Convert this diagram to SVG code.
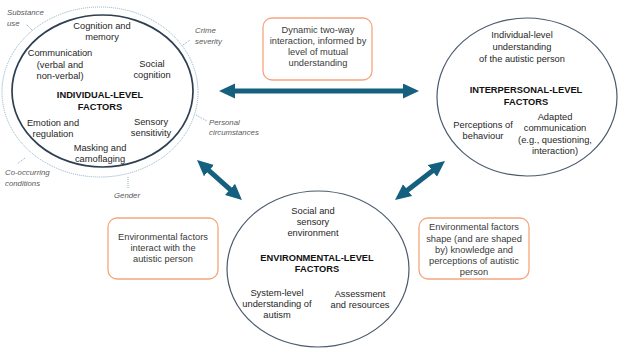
<svg xmlns="http://www.w3.org/2000/svg" width="626" height="353" viewBox="0 0 626 353">
<style>
text{font-family:"Liberation Sans",Arial,sans-serif;font-size:9.3px;fill:#262626;text-anchor:middle}
.b{font-weight:bold;fill:#111}
.i{font-style:italic;font-size:7.8px;fill:#5a5a5a;text-anchor:start}
.bx text{fill:#3a3a3a}
.box{fill:#fff;stroke:#F4A67E;stroke-width:1.3}
.ell{fill:#fff;stroke:#4A5A6E;stroke-width:1.2}
.ell2{fill:#fff;stroke:#2E3F52;stroke-width:1.7}
.dot{fill:none;stroke:#86B0C6;stroke-width:1;stroke-dasharray:1 1}
.arr{stroke:#15607F;stroke-width:5;fill:none}
</style>
<defs>
<marker id="ah" markerUnits="userSpaceOnUse" markerWidth="17" markerHeight="16" refX="6" refY="7.5" orient="auto-start-reverse" viewBox="0 0 17 16">
<path d="M0,0 L16,7.5 L0,15 Z" fill="#15607F"/>
</marker>
</defs>
<rect width="626" height="353" fill="#fff"/>

<g id="connectors">
<line class="arr" x1="229" y1="91" x2="409" y2="91" marker-start="url(#ah)" marker-end="url(#ah)"/>
<line class="arr" x1="204.5" y1="166.6" x2="234.5" y2="193.4" marker-start="url(#ah)" marker-end="url(#ah)"/>
<line class="arr" x1="437.1" y1="167.2" x2="402.9" y2="193.8" marker-start="url(#ah)" marker-end="url(#ah)"/>
</g>

<g id="individual">
<ellipse class="dot" cx="100" cy="92" rx="98" ry="85"/>
<path class="dot" d="M32,30 L26,24 M183,45 L190,40 M196,115 L207,121 M25,158 L17,164 M128,177 L128,188"/>
<text class="i" x="7" y="15">Substance</text>
<text class="i" x="7" y="26">use</text>
<text class="i" x="195" y="33">Crime</text>
<text class="i" x="195" y="44">severity</text>
<text class="i" x="209" y="125">Personal</text>
<text class="i" x="209" y="135">circumstances</text>
<text class="i" x="5" y="175">Co-occurring</text>
<text class="i" x="5" y="186">conditions</text>
<text class="i" x="114" y="198">Gender</text>
<ellipse class="ell2" cx="102.5" cy="91" rx="90.5" ry="76"/>
<text x="102" y="29">Cognition and</text>
<text x="102" y="40">memory</text>
<text x="60" y="56">Communication</text>
<text x="60" y="68">(verbal and</text>
<text x="60" y="79">non-verbal)</text>
<text x="152" y="67">Social</text>
<text x="152" y="78">cognition</text>
<text class="b" x="100" y="98">INDIVIDUAL-LEVEL</text>
<text class="b" x="100" y="110">FACTORS</text>
<text x="53" y="126">Emotion and</text>
<text x="53" y="137">regulation</text>
<text x="151" y="125">Sensory</text>
<text x="151" y="136">sensitivity</text>
<text x="100" y="151">Masking and</text>
<text x="100" y="162">camoflaging</text>
</g>

<g id="interpersonal">
<ellipse class="ell" cx="527" cy="97" rx="90" ry="79"/>
<text x="522" y="38">Individual-level</text>
<text x="522" y="50">understanding</text>
<text x="522" y="62">of the autistic person</text>
<text class="b" x="526" y="93">INTERPERSONAL-LEVEL</text>
<text class="b" x="526" y="105">FACTORS</text>
<text x="483" y="128">Perceptions of</text>
<text x="483" y="139">behaviour</text>
<text x="555" y="120">Adapted</text>
<text x="555" y="131">communication</text>
<text x="555" y="143">(e.g., questioning,</text>
<text x="555" y="154">interaction)</text>
</g>

<g id="environmental">
<ellipse class="ell" cx="318" cy="269" rx="91" ry="78"/>
<text x="313" y="214">Social and</text>
<text x="313" y="225">sensory</text>
<text x="313" y="236">environment</text>
<text class="b" x="317" y="261">ENVIRONMENTAL-LEVEL</text>
<text class="b" x="317" y="272">FACTORS</text>
<text x="277" y="296">System-level</text>
<text x="277" y="307">understanding of</text>
<text x="277" y="318">autism</text>
<text x="360" y="297">Assessment</text>
<text x="360" y="308">and resources</text>
</g>

<g id="box-dynamic" class="bx">
<rect class="box" x="263" y="18" width="109" height="62" rx="9"/>
<text x="318" y="33">Dynamic two-way</text>
<text x="318" y="44">interaction, informed by</text>
<text x="318" y="55">level of mutual</text>
<text x="318" y="66">understanding</text>
</g>

<g id="box-interact" class="bx">
<rect class="box" x="108" y="218" width="110" height="61" rx="9"/>
<text x="163" y="240">Environmental factors</text>
<text x="163" y="251">interact with the</text>
<text x="163" y="262">autistic person</text>
</g>

<g id="box-shape" class="bx">
<rect class="box" x="419" y="218" width="110" height="61" rx="9"/>
<text x="474" y="230">Environmental factors</text>
<text x="474" y="242">shape (and are shaped</text>
<text x="474" y="253">by) knowledge and</text>
<text x="474" y="264">perceptions of autistic</text>
<text x="474" y="275">person</text>
</g>
</svg>
